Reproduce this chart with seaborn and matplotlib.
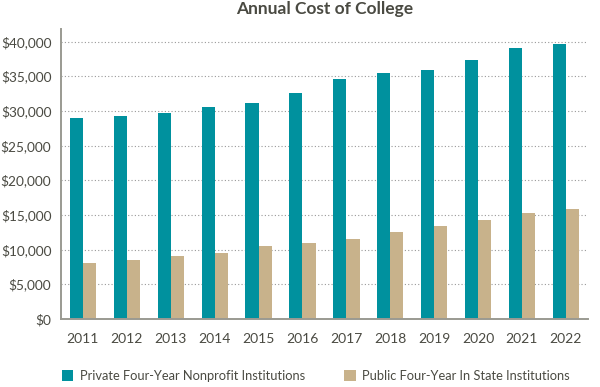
import matplotlib
matplotlib.use("Agg")
import matplotlib.pyplot as plt
from matplotlib.ticker import FuncFormatter, FixedLocator
import seaborn as sns
import pandas as pd
import numpy as np

years = ["2011", "2012", "2013", "2014", "2015", "2016",
         "2017", "2018", "2019", "2020", "2021", "2022"]
private_cost = [28900, 29200, 29750, 30500, 31100, 32600,
                34600, 35400, 35900, 37400, 39000, 39600]
public_cost = [8050, 8550, 9050, 9500, 10500, 10950,
               11550, 12500, 13400, 14300, 15300, 15850]
series = ["Private Four-Year Nonprofit Institutions",
          "Public Four-Year In State Institutions"]
colors = ["#00919e", "#c8b28b"]

df = pd.DataFrame({
    "year": years * 2,
    "cost": private_cost + public_cost,
    "type": [series[0]] * len(years) + [series[1]] * len(years),
})

sns.set_style("white")
plt.rcParams["font.family"] = ["Lato", "DejaVu Sans"]
txt = "#4a4a42"

fig = plt.figure(figsize=(6, 3.87), dpi=100)
ax = fig.add_axes([0.1017, 0.176, 0.878, 0.749])

sns.barplot(data=df, x="year", y="cost", hue="type", order=years,
            hue_order=series, palette=colors, width=0.6, gap=0,
            saturation=1, edgecolor="none", ax=ax, legend=True)

ax.set_xlim(-0.5, 11.5)
ax.set_ylim(0, 41800)
ax.set_yticks(np.arange(0, 40001, 5000))
ax.yaxis.set_major_formatter(FuncFormatter(lambda v, p: f"${int(v):,}"))
ax.grid(axis="y", linestyle=(0, (1, 2)), color="#999999", linewidth=0.8)
ax.set_axisbelow(True)

for s in ["top", "right"]:
    ax.spines[s].set_visible(False)
for s in ["left", "bottom"]:
    ax.spines[s].set_color("#9a9a92")
    ax.spines[s].set_linewidth(1.4)

ax.tick_params(axis="y", length=0, pad=7, labelsize=9.8, labelcolor=txt)
ax.tick_params(axis="x", which="major", length=0, pad=10, labelsize=10, labelcolor=txt)
ax.xaxis.set_minor_locator(FixedLocator(np.arange(-0.5, 12, 1)))
ax.tick_params(axis="x", which="minor", length=6, width=1.2, color="#6a6a62", direction="out")

ax.set_xlabel("")
ax.set_ylabel("")
ax.set_title("Annual Cost of College", fontsize=12.5, fontweight="bold", color=txt, pad=11)

handles, labels = ax.get_legend_handles_labels()
ax.get_legend().remove()
fig.legend(handles, labels, loc="center left", bbox_to_anchor=(0.103, 0.028), ncol=2,
           frameon=False, fontsize=9.3, labelcolor=txt, handlelength=0.9,
           handleheight=0.9, handletextpad=0.5, columnspacing=3.0,
           borderpad=0, borderaxespad=0)

fig.savefig("out.png", dpi=100)
